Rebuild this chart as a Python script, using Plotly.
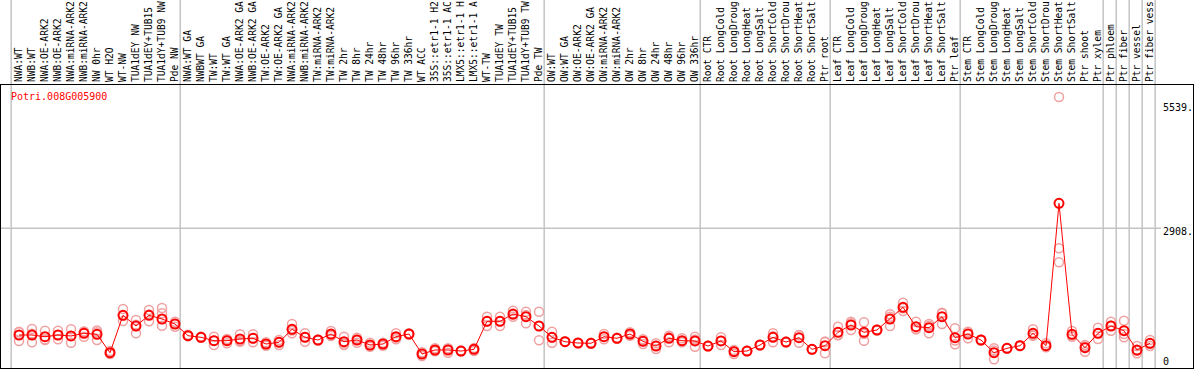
import plotly.graph_objects as go

gene = "Potri.008G005900"

# category labels as shown (the source truncates them to 14 characters)
categories = [
    "NWA:WT", "NWB:WT", "NWA:OE-ARK2", "NWB:OE-ARK2", "NWA:miRNA-ARK2", "NWB:miRNA-ARK2",
    "NW 0hr", "WT H2O", "WT-NW", "TUA1dEY NW", "TUA1dEY+TUB15", "TUA1dY+TUB9 NW", "Pde NW",
    "NWA:WT GA", "NWBWT GA", "TW:WT", "TW:WT GA", "NWA:OE-ARK2 GA", "NWB:OE-ARK2 GA",
    "TW:OE-ARK2", "TW:OE-ARK2 GA", "NWA:miRNA-ARK2", "NWB:miRNA-ARK2", "TW:miRNA-ARK2",
    "TW:miRNA-ARK2", "TW 2hr", "TW 8hr", "TW 24hr", "TW 48hr", "TW 96hr", "TW 336hr", "WT ACC",
    "35S::etr1-1 H2", "35S::etr1-1 AC", "LMX5::etr1-1 H", "LMX5::etr1-1 A", "WT-TW",
    "TUA1dEY TW", "TUA1dEY+TUB15", "TUA1dY+TUB9 TW", "Pde TW",
    "OW:WT", "OW:WT GA", "OW:OE-ARK2", "OW:OE-ARK2 GA", "OW:miRNA-ARK2", "OW:miRNA-ARK2",
    "OW 2hr", "OW 8hr", "OW 24hr", "OW 48hr", "OW 96hr", "OW 336hr",
    "Root CTR", "Root LongCold", "Root LongDroug", "Root LongHeat", "Root LongSalt",
    "Root ShortCold", "Root ShortDrou", "Root ShortHeat", "Root ShortSalt", "Ptr root",
    "Leaf CTR", "Leaf LongCold", "Leaf LongDroug", "Leaf LongHeat", "Leaf LongSalt",
    "Leaf ShortCold", "Leaf ShortDrou", "Leaf ShortHeat", "Leaf ShortSalt", "Ptr leaf",
    "Stem CTR", "Stem LongCold", "Stem LongDroug", "Stem LongHeat", "Stem LongSalt",
    "Stem ShortCold", "Stem ShortDrou", "Stem ShortHeat", "Stem ShortSalt", "Ptr shoot",
    "Ptr xylem", "Ptr phloem", "Ptr fiber", "Ptr vessel", "Ptr fiber vess",
]

# first category index of each group (group separators)
group_starts = [0, 13, 41, 53, 63, 73, 84, 85, 86, 87, 88]

mean_values = [
    645, 645, 609, 645, 624, 681, 660, 269, 1063, 836, 1063, 984, 878,
    630, 596, 524, 524, 560, 575, 454, 490, 766, 596, 539, 666, 503, 539, 433, 454, 609, 666,
    242, 327, 327, 305, 341, 935, 935, 1090, 1033, 836,
    596, 503, 475, 469, 609, 575, 666, 511, 411, 575, 524, 518,
    411, 518, 291, 305, 433, 596, 496, 588, 341, 418,
    702, 857, 702, 751, 984, 1232, 821, 800, 1033, 588,
    666, 539, 269, 363, 418, 681, 418, 3438, 660, 375, 681,
    836, 736, 327, 469,
]

replicates = [
    [715, 702, 518], [772, 673, 490], [736, 552, 539], [736, 645, 554], [766, 625, 481],
    [715, 719, 609], [702, 739, 539], [305, 260, 242], [1196, 1051, 942], [963, 864, 681],
    [1175, 1079, 935], [1217, 1105, 842], [927, 886, 821],
    [650, 620, 630], [610, 590, 588], [609, 530, 433], [560, 543, 469], [660, 517, 503],
    [660, 575, 490], [490, 454, 418], [539, 498, 433], [878, 739, 681], [681, 604, 503],
    [550, 530, 537], [730, 644, 624], [609, 467, 433], [588, 548, 481], [481, 421, 397],
    [481, 463, 418], [681, 592, 554], [680, 660, 658], [278, 249, 199], [363, 319, 299],
    [363, 349, 269], [315, 300, 300], [369, 349, 305], [1033, 936, 836], [1033, 936, 836],
    [1160, 1077, 1033], [1139, 1067, 893], [1139, 837, 532],
    [715, 592, 481], [510, 500, 499], [480, 470, 475], [480, 465, 462], [666, 607, 554],
    [585, 570, 570], [702, 666, 630], [554, 525, 454], [469, 416, 348], [630, 605, 490],
    [575, 507, 490], [609, 548, 397],
    [420, 405, 408], [596, 525, 433], [327, 304, 242], [310, 300, 305], [440, 428, 431],
    [681, 617, 490], [505, 490, 493], [645, 638, 481], [345, 338, 340], [490, 507, 257],
    [821, 640, 645], [927, 893, 751], [914, 668, 524], [760, 745, 748], [1084, 1032, 836],
    [1330, 1212, 1154], [927, 770, 766], [878, 841, 681], [1118, 1103, 878], [787, 529, 448],
    [715, 708, 575], [550, 530, 537], [363, 315, 129], [370, 358, 361], [425, 412, 417],
    [766, 647, 630], [469, 400, 385], [5693, 2484, 2187], [730, 641, 609], [433, 401, 291],
    [800, 683, 560], [927, 845, 736], [948, 664, 596], [411, 313, 257], [539, 457, 411],
]

y_labels = [5539, 2908, 0]
y_label_text = ["5539.", "2908.", "0"]

RED = "#ff0000"
PINK = "#f0a0a0"
GRID = "#c4c4c4"
FONT = "DejaVu Sans Mono"

x_idx = list(range(len(categories)))

rep_x, rep_y = [], []
for i, reps in enumerate(replicates):
    for v in reps:
        rep_x.append(i)
        rep_y.append(v)

fig = go.Figure()
fig.add_trace(go.Scatter(
    x=rep_x, y=rep_y, mode="markers",
    marker=dict(symbol="circle-open", size=9, color=PINK, line=dict(width=1.5, color=PINK)),
    hoverinfo="skip", showlegend=False,
))
fig.add_trace(go.Scatter(
    x=x_idx, y=mean_values, mode="lines+markers",
    line=dict(color=RED, width=1),
    marker=dict(symbol="circle-open", size=9, color=RED, line=dict(width=2, color=RED)),
    showlegend=False,
))

# layout geometry: plot area px x 1..1193, y 85..368
W, H = 1194, 370
L, R, T, B = 1, 1, 85, 2
plot_w = W - L - R
plot_h = H - T - B
step = 13.0
first_px = 19.0
x0 = (L - first_px) / step
x1 = (W - R - first_px) / step

ypx_per = 0.04714
zero_px = 365.4
y_top = (zero_px - T) / ypx_per
y_bot = (zero_px - (H - B)) / ypx_per

shapes = []
top_paper = 1 + T / plot_h
for g in group_starts:
    xs = g - 0.6
    shapes.append(dict(type="line", xref="x", yref="paper", x0=xs, x1=xs, y0=0, y1=top_paper,
                       line=dict(color=GRID, width=1.5), layer="below"))
# horizontal grid line at 2908
shapes.append(dict(type="line", xref="paper", yref="y", x0=0, x1=(1161 - L) / plot_w,
                   y0=y_labels[1], y1=y_labels[1], line=dict(color=GRID, width=1.5), layer="below"))

annotations = [dict(text=gene, xref="paper", yref="paper", x=(9 - L) / plot_w,
                    y=((H - B) - 97) / plot_h, xanchor="left", yanchor="middle",
                    showarrow=False, font=dict(family=FONT, size=10, color=RED))]
for v, t in zip(y_labels, y_label_text):
    annotations.append(dict(text=t, xref="paper", yref="y", x=(1161 - L) / plot_w, y=v,
                            xanchor="left", yanchor="middle", yshift=(-3 if v > 0 else 4),
                            showarrow=False, font=dict(family=FONT, size=10, color="black")))

fig.update_layout(
    width=W, height=H,
    margin=dict(l=L, r=R, t=T, b=B, pad=0),
    paper_bgcolor="white", plot_bgcolor="white",
    shapes=shapes, annotations=annotations,
    xaxis=dict(
        side="top", range=[x0, x1], tickmode="array", tickvals=x_idx, ticktext=categories,
        tickangle=-90, ticks="", showgrid=False, zeroline=False,
        showline=True, linecolor="black", linewidth=1, mirror=True,
        tickfont=dict(family=FONT, size=9.6, color="black"), automargin=False,
    ),
    yaxis=dict(
        range=[y_bot, y_top], showticklabels=False, ticks="", showgrid=False, zeroline=False,
        showline=True, linecolor="black", linewidth=1, mirror=True, automargin=False,
    ),
)

fig.write_html(
    "out.html",
    config={"displayModeBar": False},
    post_script="document.body.style.margin='0';document.body.style.overflow='hidden';",
)
